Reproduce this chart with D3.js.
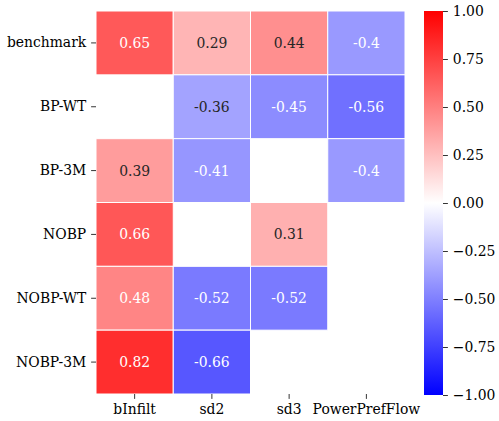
<!DOCTYPE html>
<html><head><meta charset="utf-8">
<script src="https://cdn.jsdelivr.net/npm/d3@7"></script>
<style>body{margin:0;background:#fff}svg{display:block}svg text{font-family:"DejaVu Serif",serif !important}</style>
</head><body>
<svg id="c" width="499" height="421"></svg>
<script>
const rows = ["benchmark","BP-WT","BP-3M","NOBP","NOBP-WT","NOBP-3M"];
const cols = ["bInfilt","sd2","sd3","PowerPrefFlow"];
const benchmark = [0.65, 0.29, 0.44, -0.4];
const bpWT      = [null, -0.36, -0.45, -0.56];
const bp3M      = [0.39, -0.41, null, -0.4];
const nobp      = [0.66, null, 0.31, null];
const nobpWT    = [0.48, -0.52, -0.52, null];
const nobp3M    = [0.82, -0.66, null, null];
const values = [benchmark, bpWT, bp3M, nobp, nobpWT, nobp3M];
const cbarTicks = [-1, -0.75, -0.5, -0.25, 0, 0.25, 0.5, 0.75, 1];

const svg = d3.select("#c");
const L = 96, R = 405, T = 11, B = 394;
const x = d3.scaleBand().domain(cols).range([L, R]);
const y = d3.scaleBand().domain(rows).range([T, B]);

// bwr colormap (blue -> white -> red)
function bwr(v){
  const q = Math.max(0, Math.min(1, (v + 1) / 2));
  if (q < 0.5){ const f = q/0.5; return [f, f, 1]; }
  const f = (q-0.5)/0.5; return [1, 1-f, 1-f];
}
function toHex(c){ return d3.rgb(Math.round(c[0]*255), Math.round(c[1]*255), Math.round(c[2]*255)).formatHex(); }
function lum(c){
  const lin = c.map(u => u <= 0.03928 ? u/12.92 : Math.pow((u+0.055)/1.055, 2.4));
  return 0.2126*lin[0] + 0.7152*lin[1] + 0.0722*lin[2];
}

const cells = [];
values.forEach((row, i) => row.forEach((v, j) => { if (v !== null) cells.push({r: rows[i], c: cols[j], v}); }));

const g = svg.append("g");
g.selectAll("rect.cell").data(cells).join("rect")
  .attr("x", d => x(d.c)).attr("y", d => y(d.r))
  .attr("width", x.bandwidth()).attr("height", y.bandwidth())
  .attr("fill", d => toHex(bwr(d.v)))
  .attr("stroke", "#fff").attr("stroke-width", 1);

g.selectAll("text.ann").data(cells).join("text")
  .attr("x", d => x(d.c) + x.bandwidth()/2)
  .attr("y", d => y(d.r) + y.bandwidth()/2)
  .attr("text-anchor", "middle").attr("dominant-baseline", "central")
  .attr("font-size", "13.9px")
  .attr("fill", d => lum(bwr(d.v)) > 0.408 ? "#262626" : "#ffffff")
  .text(d => String(d.v));

function styleAxis(sel){
  sel.attr("font-family", "DejaVu Serif");
  sel.select(".domain").remove();
  sel.selectAll("text").attr("font-size","13.9px").attr("fill","#000");
  sel.selectAll("line").attr("stroke","#000").attr("stroke-width",0.8);
}

const ya = svg.append("g").attr("transform", `translate(${L},0)`)
  .call(d3.axisLeft(y).tickSize(4.9).tickPadding(4.9));
styleAxis(ya);

const xa = svg.append("g").attr("transform", `translate(0,${B})`)
  .call(d3.axisBottom(x).tickSize(4.9).tickPadding(4.9));
styleAxis(xa);

// colorbar
const CL = 424, CR = 443;
const cy = d3.scaleLinear().domain([-1, 1]).range([B+1, T]);
const defs = svg.append("defs");
const grad = defs.append("linearGradient").attr("id","cg").attr("x1",0).attr("y1",1).attr("x2",0).attr("y2",0);
[0, 0.5, 1].forEach(t => {
  grad.append("stop").attr("offset", t).attr("stop-color", toHex(bwr(t*2-1)));
});
svg.append("rect").attr("x", CL).attr("y", cy(1)).attr("width", CR-CL).attr("height", cy(-1)-cy(1)).attr("fill","url(#cg)");
const fmt = v => (v < 0 ? "\u2212" : "") + Math.abs(v).toFixed(2);
const ca = svg.append("g").attr("transform", `translate(${CR},0)`)
  .call(d3.axisRight(cy).tickValues(cbarTicks).tickFormat(fmt).tickSize(4.9).tickPadding(4.9));
styleAxis(ca);
</script>
</body></html>
